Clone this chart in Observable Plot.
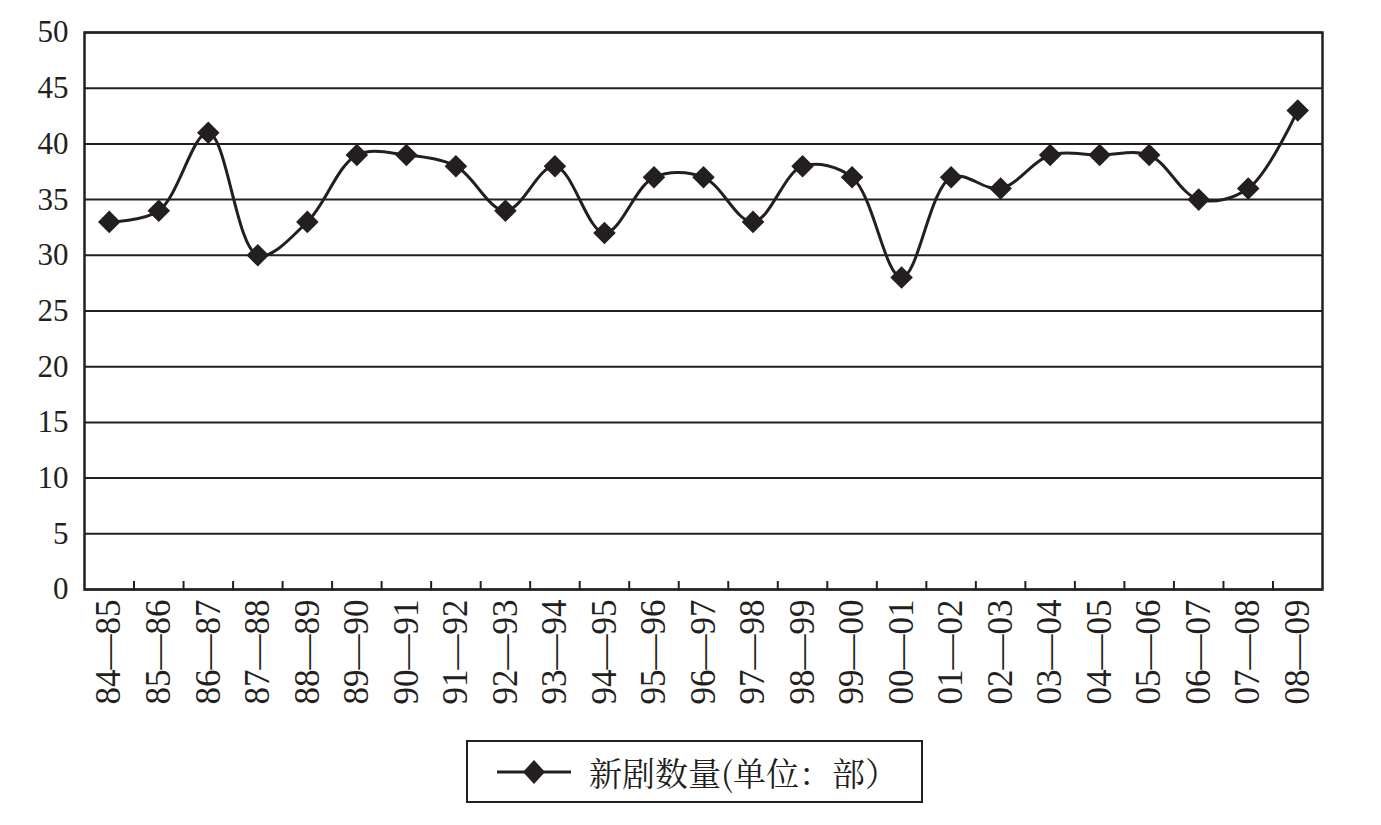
<!DOCTYPE html>
<html>
<head>
<meta charset="utf-8">
<script src="https://cdn.jsdelivr.net/npm/d3@7"></script>
<script src="https://cdn.jsdelivr.net/npm/@observablehq/plot@0.6"></script>
<style>
  body { margin: 0; background: #fff; }
  #chart svg, #chart svg text { font-family: "Liberation Serif", serif !important; }
  #legend {
    margin-left: 466px; margin-top: 15px;
    width: 453px; height: 59px;
    border: 2px solid #231f20;
    display: flex; align-items: center;
    font-family: "Noto Serif CJK SC", "Noto Sans CJK SC", serif; font-size: 33px; color: #231f20;
    white-space: nowrap;
  }
  #legend svg { margin-left: 29px; margin-right: 18px; }
</style>
</head>
<body>
<div id="chart"></div>
<div id="legend"></div>
<script>
const seasons = ["84—85","85—86","86—87","87—88","88—89","89—90","90—91","91—92","92—93","93—94","94—95","95—96","96—97","97—98","98—99","99—00","00—01","01—02","02—03","03—04","04—05","05—06","06—07","07—08","08—09"];
const newPlays = [33,34,41,30,33,39,39,38,34,38,32,37,37,33,38,37,28,37,36,39,39,39,35,36,43];
const yTicks = [0,5,10,15,20,25,30,35,40,45,50];
const seriesName = "新剧数量(单位：部）";

const data = seasons.map((s, i) => ({i, season: s, value: newPlays[i]}));
const boundaries = d3.range(0.5, seasons.length - 1, 1);
const ink = "#231f20";
const serif = "Liberation Serif";

const chart = Plot.plot({
  width: 1381,
  height: 725,
  marginLeft: 84,
  marginRight: 59,
  marginTop: 32,
  marginBottom: 136,
  style: {fontFamily: serif, color: ink, background: "#fff"},
  x: {type: "linear", domain: [-0.5, seasons.length - 0.5]},
  y: {domain: [0, 50]},
  marks: [
    Plot.gridY(yTicks, {stroke: ink, strokeOpacity: 1, strokeWidth: 2}),
    Plot.ruleX(boundaries, {x: d => d, stroke: ink, strokeWidth: 2, insetTop: 549}),
    Plot.frame({stroke: ink, strokeWidth: 2.5}),
    Plot.axisY(yTicks, {tickSize: 0, tickPadding: 16, fontSize: 31, fontFamily: serif, label: null}),
    Plot.axisX(d3.range(seasons.length), {tickFormat: i => seasons[i], tickRotate: -90, tickSize: 0, tickPadding: 10, fontSize: 35, fontFamily: serif, label: null}),
    Plot.line(data, {x: "i", y: "value", curve: "catmull-rom", stroke: ink, strokeWidth: 3}),
    Plot.dot(data, {x: "i", y: "value", symbol: "square", r: 9, rotate: 45, fill: ink, stroke: "none"})
  ]
});
d3.select(chart).attr("font-family", serif)
  .selectAll("text").attr("font-family", serif).style("font-family", serif);
document.getElementById("chart").appendChild(chart);

const legend = document.getElementById("legend");
legend.innerHTML = `<svg width="74" height="30"><line x1="0" y1="15" x2="74" y2="15" stroke="${ink}" stroke-width="3"/><path d="M37,3 L48,15 L37,27 L26,15 Z" fill="${ink}"/></svg><span>${seriesName}</span>`;
</script>
</body>
</html>
